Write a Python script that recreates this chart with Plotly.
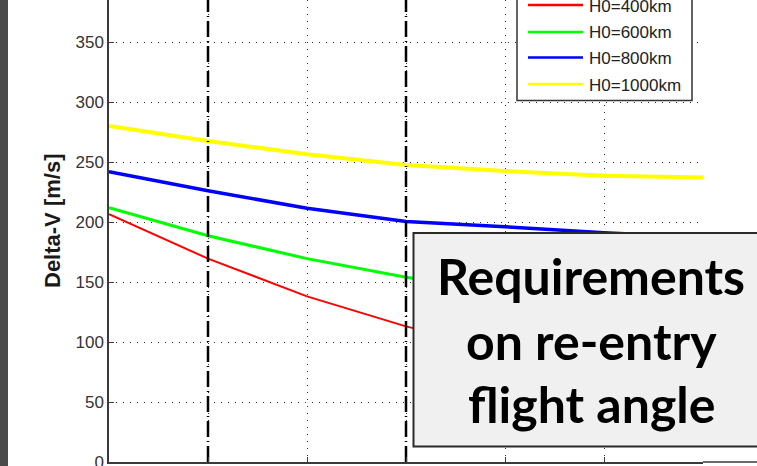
import plotly.graph_objects as go

# Flight-angle grid (axis steps) and delta-V per initial altitude
x_steps = [0, 1, 2, 3, 4, 5, 6]
dv_400 = [206.5, 169.5, 138.0, 113.0, 93.0, 78.0, 67.0]
dv_600 = [212.0, 188.5, 169.5, 154.0, 142.0, 132.0, 125.0]
dv_800 = [242.0, 226.0, 211.5, 200.5, 196.0, 191.0, 187.0]
dv_1000 = [280.0, 267.5, 256.5, 247.5, 242.5, 238.5, 237.0]

series_names = ["H0=400km", "H0=600km", "H0=800km", "H0=1000km"]
series_values = [dv_400, dv_600, dv_800, dv_1000]
series_colors = ["#ff0000", "#00ff00", "#0000ff", "#ffff00"]
series_widths = [2, 3, 3.5, 4]

# Limits on the re-entry flight angle
limit_steps = [1, 3]

y_ticks = [0, 50, 100, 150, 200, 250, 300, 350]
y_top = 385

box_lines = ["Requirements", "on re-entry", "flight angle"]

W, H = 757, 466
L, R, T, B = 109, 54, 0, 4
pw, ph = W - L - R, H - T - B


def px(xpix):
    return (xpix - L) / pw


def py(ypix):
    return (H - B - ypix) / ph


fig = go.Figure()

for name, vals, col, lw in zip(series_names, series_values, series_colors, series_widths):
    fig.add_trace(go.Scatter(x=x_steps, y=vals, mode="lines", name=name,
                             line=dict(color=col, width=lw), showlegend=False))

for xv in limit_steps:
    fig.add_trace(go.Scatter(x=[xv, xv], y=[0, y_top], mode="lines", showlegend=False,
                             line=dict(color="#000000", width=2.5, dash="16px,4px,1px,4px")))

grid_kw = dict(showgrid=True, gridcolor="#333333", gridwidth=1, griddash="1px,6px",
               showline=True, linecolor="#3a3a3a", linewidth=1.5, automargin=False,
               ticks="inside", ticklen=5, tickcolor="#3a3a3a", zeroline=False)

fig.update_xaxes(range=[0, 6], tickvals=x_steps, showticklabels=False, **grid_kw)
fig.update_yaxes(range=[0, y_top], tickvals=y_ticks, ticktext=[str(v) for v in y_ticks],
                 ticklabeloverflow="allow",
                 tickfont=dict(family="Liberation Sans", size=17, color="#333333"), **grid_kw)

shapes = []
# dark strip at the left edge
shapes.append(dict(type="rect", xref="paper", yref="paper", x0=px(-5), x1=px(8),
                   y0=py(H + 5), y1=py(-5), fillcolor="#4a4a4a", line=dict(width=0), layer="above"))
# bottom axis continues to the right edge
shapes.append(dict(type="line", xref="paper", yref="paper", x0=1, x1=px(W + 5), y0=0, y1=0,
                   line=dict(color="#3a3a3a", width=1.5), layer="above"))

# legend frame and samples
shapes.append(dict(type="rect", xref="paper", yref="paper", x0=px(517), x1=px(692),
                   y0=py(100.5), y1=py(-15), fillcolor="#ffffff",
                   line=dict(color="#333333", width=1.5), layer="above"))
legend_rows = [5, 32, 57.5, 84]
annotations = []
for name, col, yrow in zip(series_names, series_colors, legend_rows):
    shapes.append(dict(type="line", xref="paper", yref="paper", x0=px(528), x1=px(583),
                       y0=py(yrow), y1=py(yrow), line=dict(color=col, width=2.5), layer="above"))
    annotations.append(dict(xref="paper", yref="paper", x=px(587), y=py(yrow + 1),
                            xanchor="left", yanchor="middle", text=name, showarrow=False,
                            font=dict(family="Liberation Sans", size=17, color="#222222")))

# callout box
shapes.append(dict(type="rect", xref="paper", yref="paper", x0=px(413.5), x1=px(W + 20),
                   y0=py(446.5), y1=py(233), fillcolor="#f0f0f0",
                   line=dict(color="#2a2a2a", width=2), layer="above"))
for txt, ymid in zip(box_lines, [276, 341, 404]):
    annotations.append(dict(xref="paper", yref="paper", x=px(591), y=py(ymid),
                            xanchor="center", yanchor="middle", text="<b>" + txt + "</b>",
                            showarrow=False,
                            font=dict(family="Lato", size=50, color="#000000")))

annotations.append(dict(xref="paper", yref="paper", x=px(53), y=py(221),
                        xanchor="center", yanchor="middle", textangle=-90,
                        text="<b>Delta-V [m/s]</b>", showarrow=False,
                        font=dict(family="Liberation Sans", size=22, color="#1a1a1a")))

fig.update_layout(width=W, height=H, margin=dict(l=L, r=R, t=T, b=B, pad=0, autoexpand=False),
                  paper_bgcolor="#ffffff", plot_bgcolor="#ffffff",
                  shapes=shapes, annotations=annotations, showlegend=False)

fig.write_html("out.html")
